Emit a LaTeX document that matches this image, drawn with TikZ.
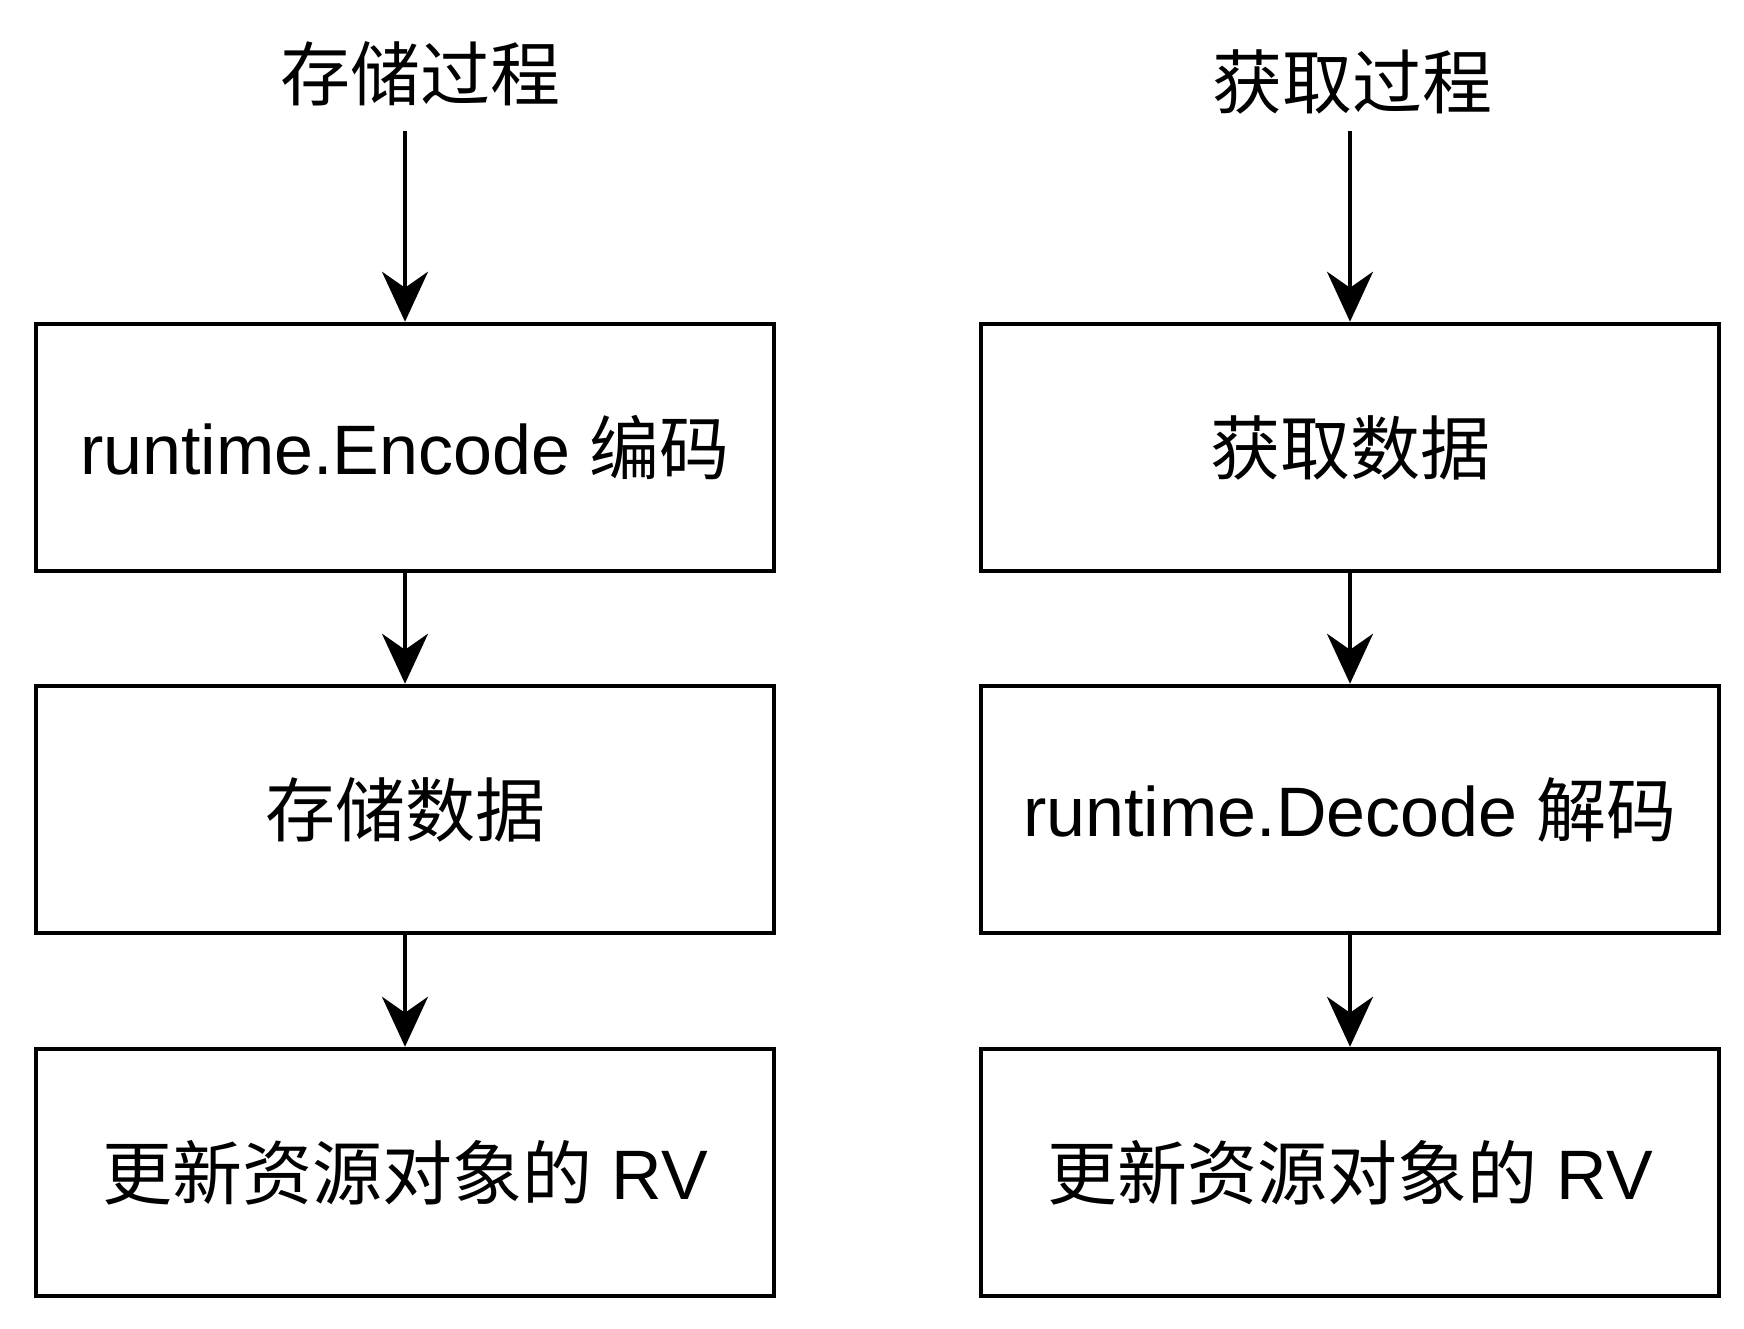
\documentclass[tikz,border=0pt]{standalone}
\usepackage{fontspec}
\setmainfont{Liberation Sans}
\newfontfamily\cjk{Noto Sans CJK SC}
\usetikzlibrary{arrows.meta}
\begin{document}
\begin{tikzpicture}[x=1pt,y=-1pt,
  box/.style={draw, line width=4.5pt, minimum width=738pt, minimum height=247pt, inner sep=0pt, font=\fontsize{70}{84}\selectfont},
  ttl/.style={font=\fontsize{70}{84}\selectfont, inner sep=0pt},
  arr/.style={-{Stealth[length=50pt,width=46pt,inset=16pt]}, line width=3.5pt}]
\useasboundingbox[fill=white] (0,0) rectangle (1744,1328);
% titles
\node[ttl] (t1) at (420,74) {\cjk 存储过程};
\node[ttl] (t2) at (1352,82) {\cjk 获取过程};
\coordinate (s1) at (405,131);
\coordinate (s2) at (1350,131);
% left column
\node[box] (l1) at (405,447.5) {runtime.Encode {\cjk 编码}};
\node[box] (l2) at (405,809.5) {\cjk 存储数据};
\node[box] (l3) at (405,1172.5) {{\cjk 更新资源对象的} RV};
% right column
\node[box] (r1) at (1350,447.5) {\cjk 获取数据};
\node[box] (r2) at (1350,809.5) {runtime.Decode {\cjk 解码}};
\node[box] (r3) at (1350,1172.5) {{\cjk 更新资源对象的} RV};
% arrows
\draw[arr] (s1) -- (l1.north);
\draw[arr] (l1) -- (l2);
\draw[arr] (l2) -- (l3);
\draw[arr] (s2) -- (r1.north);
\draw[arr] (r1) -- (r2);
\draw[arr] (r2) -- (r3);
\end{tikzpicture}
\end{document}
